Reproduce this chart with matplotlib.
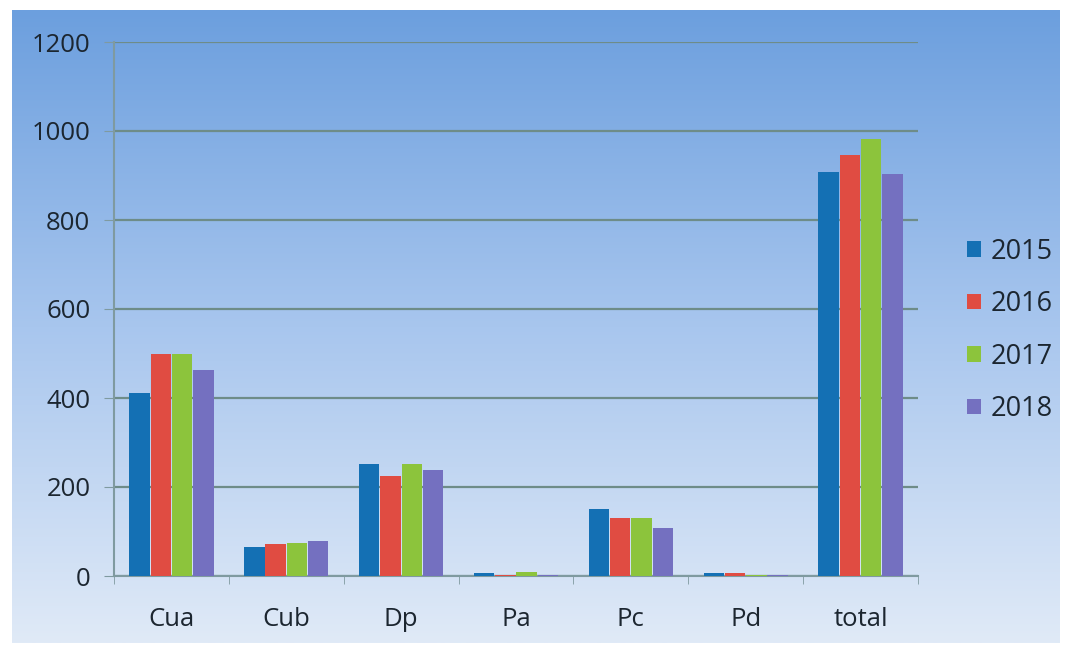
import numpy as np
import matplotlib
matplotlib.use("Agg")
import matplotlib.pyplot as plt
from matplotlib.colors import LinearSegmentedColormap

categories = ["Cua", "Cub", "Dp", "Pa", "Pc", "Pd", "total"]
years = ["2015", "2016", "2017", "2018"]
v2015 = [411, 65, 252, 6, 150, 7, 908]
v2016 = [499, 72, 225, 3, 130, 6, 946]
v2017 = [499, 74, 252, 10, 130, 3, 982]
v2018 = [463, 79, 238, 3, 108, 3, 903]
yticks = [0, 200, 400, 600, 800, 1000, 1200]

series = [v2015, v2016, v2017, v2018]
colors = ["#1470b4", "#e04c42", "#8cc43c", "#7470c0"]
txt = "#1c2630"

plt.rcParams['font.family'] = ['Open Sans', 'DejaVu Sans']
fig = plt.figure(figsize=(10.69, 6.45), dpi=100)
fig.patch.set_facecolor("white")

# gradient background panel
bg = fig.add_axes([12/1069, 2/645, (1060-12)/1069, (635-2)/645], zorder=0)
grad = np.linspace(0, 1, 256).reshape(-1, 1)
cmap = LinearSegmentedColormap.from_list("bg", ["#6c9fde", "#a8c6ee", "#e0eaf7"])
bg.imshow(grad, aspect="auto", cmap=cmap, extent=[0, 1, 0, 1])
bg.set_axis_off()

ax = fig.add_axes([114/1069, 1 - 576/645, (918-114)/1069, (576-42)/645], zorder=1)
ax.patch.set_alpha(0)

x = np.arange(len(categories))
w = 0.185
for i, (vals, c, yr) in enumerate(zip(series, colors, years)):
    ax.bar(x + (i - 1.5) * w, vals, width=w * 0.96, color=c, label=yr, zorder=3)

ax.set_xlim(-0.5, len(categories) - 0.5)
ax.set_ylim(0, 1200)
ax.set_yticks(yticks)
ax.set_yticklabels([str(t) for t in yticks], fontsize=18.5, color=txt)
ax.yaxis.grid(True, color="#6e8c88", linewidth=1.6, zorder=1)
ax.set_axisbelow(True)
ax.tick_params(axis="y", length=7, color="#7f9aa0", pad=10)

ax.set_xticks(x)
ax.set_xticklabels(categories, fontsize=18.5, color=txt)
ax.set_xticks(np.arange(-0.5, len(categories)), minor=True)
ax.tick_params(axis="x", which="major", length=0, pad=22)
ax.tick_params(axis="x", which="minor", length=6, color="#7f9aa0")

for s in ["top", "right"]:
    ax.spines[s].set_visible(False)
ax.spines["left"].set_color("#7f9aa0")
ax.spines["left"].set_linewidth(1.5)
ax.spines["bottom"].set_color("#7f9aa0")
ax.spines["bottom"].set_linewidth(1.5)

leg = ax.legend(loc="center left", bbox_to_anchor=(1.031, 0.46), frameon=False,
                fontsize=19.5, handlelength=0.5, handleheight=0.5,
                handletextpad=0.35, labelspacing=0.9, labelcolor=txt)

fig.savefig("out.png", dpi=100, facecolor="white")
